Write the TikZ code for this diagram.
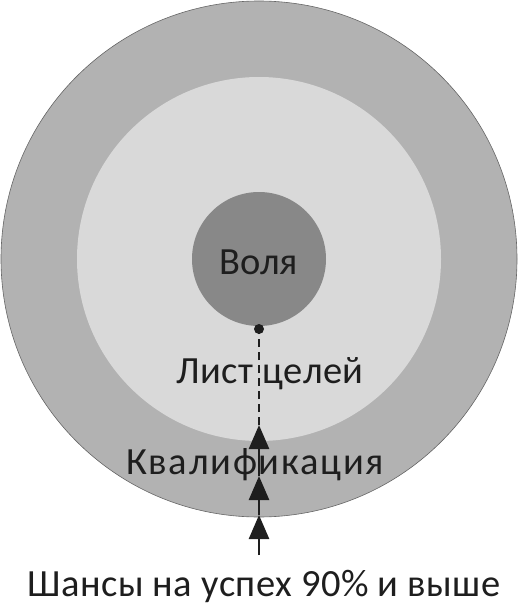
\documentclass[tikz,border=0pt]{standalone}
\usepackage{fontspec}
\setmainfont{Carlito}
\usetikzlibrary{arrows.meta}

\definecolor{ringgray}{HTML}{B2B2B2}
\definecolor{fieldgray}{HTML}{D9D9D9}
\definecolor{coregray}{HTML}{888888}
\definecolor{inkgray}{HTML}{1E1E1E}

\tikzset{
    disc/.style={circle, inner sep=0pt, draw=none},
    label text/.style={font=\fontsize{38.5}{40}\selectfont, text=inkgray, inner sep=0pt, anchor=base},
    up arrow/.style={-{Triangle[length=24pt,width=20pt]}, line width=2.5pt, inkgray},
}

\begin{document}
\begin{tikzpicture}[x=1pt, y=-1pt]
    \useasboundingbox (0,0) rectangle (518,607);

    % --- Kreise ---
    \node[disc, fill=ringgray, draw=gray!80!black, line width=0.6pt, minimum size=516pt] (outer) at (259,259) {};
    \node[disc, fill=fieldgray, minimum size=364pt] (middle) at (259,259) {};
    \node[disc, fill=coregray, minimum size=134pt] (core) at (259,259) {};

    % --- Beschriftungen ---
    \node[label text] (wille) at (259,274) {Воля};
    \node[label text] (ziele) at (270,383) {\addfontfeatures{LetterSpace=1.5}Лист целей};
    \node[label text] (quali) at (255,474) {\addfontfeatures{LetterSpace=4.5}Квалификация};
    \node[label text] (chance) at (264,596) {\addfontfeatures{LetterSpace=1}Шансы на успех 90\% и выше};

    % --- Pfeil von unten zum Kern ---
    \coordinate (start) at (259,555);
    \coordinate (tipA) at (259,515);
    \coordinate (tipB) at (259,476);
    \coordinate (tipC) at (259,425);
    \coordinate (dot) at (259,329);
    \draw[up arrow] (start) -- (tipA);
    \draw[up arrow] (tipA) -- (tipB);
    \draw[up arrow] (tipB) -- (tipC);
    \draw[inkgray, line width=2pt, dash pattern=on 8pt off 5pt] (tipC) -- (dot);
    \fill[inkgray] (dot) circle (5pt);
\end{tikzpicture}
\end{document}
